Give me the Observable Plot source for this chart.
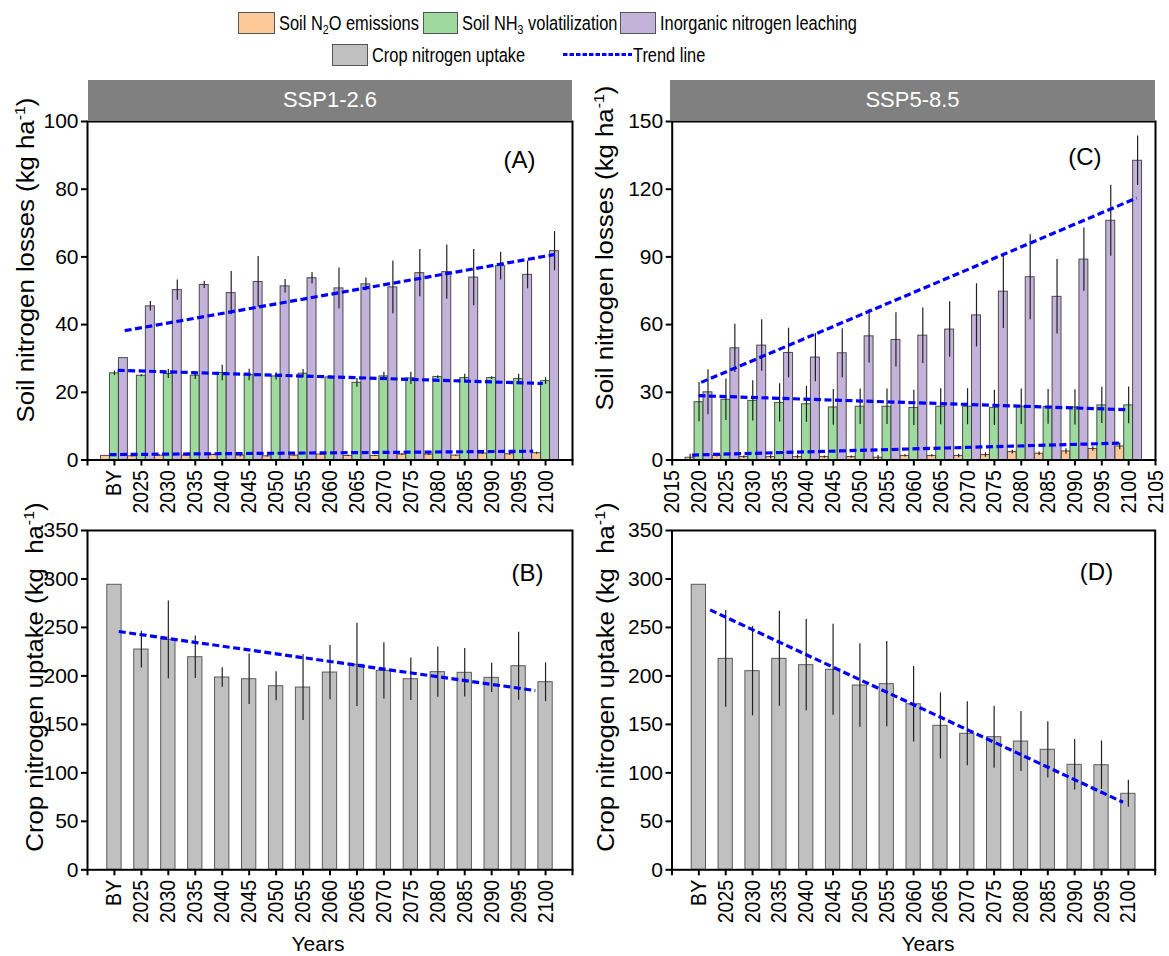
<!DOCTYPE html>
<html><head><meta charset="utf-8">
<script src="https://cdn.jsdelivr.net/npm/d3@7"></script>
<script src="https://cdn.jsdelivr.net/npm/@observablehq/plot@0.6"></script>
<style>
body{margin:0;background:#fff;}
#root{position:relative;width:1169px;height:956px;overflow:hidden;font-family:"Liberation Sans",Arial,sans-serif;color:#000;}
.sw{position:absolute;border:1px solid #555;box-sizing:border-box;}
.lt{position:absolute;font-size:20.5px;line-height:22px;white-space:nowrap;transform:scaleX(0.80);transform-origin:0 50%;}
.lt sub{font-size:0.65em;vertical-align:-0.3em;line-height:0;}
.hdr{position:absolute;background:#808080;color:#fff;font-size:22px;display:flex;align-items:center;justify-content:center;}
.yt{position:absolute;width:420px;height:30px;line-height:30px;text-align:center;font-size:23px;white-space:nowrap;transform:rotate(-90deg) scaleX(1.12);}
.yt sup{font-size:0.62em;vertical-align:0.6em;line-height:0;}
.xt{position:absolute;width:120px;height:26px;line-height:26px;text-align:center;font-size:21px;}
svg.panel{position:absolute;}
</style>
</head><body>
<div id="root"></div>
<script>
// ---------------- DATA ----------------
const years = [2020, 2025, 2030, 2035, 2040, 2045, 2050, 2055, 2060, 2065, 2070, 2075, 2080, 2085, 2090, 2095, 2100];
const tickYears = [2015, 2020, 2025, 2030, 2035, 2040, 2045, 2050, 2055, 2060, 2065, 2070, 2075, 2080, 2085, 2090, 2095, 2100, 2105];
const tickLabelsBY = ["", "BY", "2025", "2030", "2035", "2040", "2045", "2050", "2055", "2060", "2065", "2070", "2075", "2080", "2085", "2090", "2095", "2100", ""];
const tickLabelsYear = ["2015", "2020", "2025", "2030", "2035", "2040", "2045", "2050", "2055", "2060", "2065", "2070", "2075", "2080", "2085", "2090", "2095", "2100", "2105"];

// SSP1-2.6 soil nitrogen losses (kg ha-1)
const ssp126_n2o      = [1.2, 1.1, 1.3, 1.3, 1.5, 1.3, 1.1, 1.3, 1.6, 1.2, 1.2, 1.6, 1.6, 1.3, 1.9, 1.7, 2.0];
const ssp126_n2oErr   = [0, 0.2, 0.2, 0.2, 0.2, 0.4, 0.2, 0.2, 0.3, 0.2, 0.2, 0.3, 0.3, 0.2, 0.3, 0.3, 0.3];
const ssp126_nh3      = [25.6, 24.9, 25.4, 24.9, 25.7, 25.1, 24.7, 25.5, 24.4, 22.8, 24.7, 24.1, 24.5, 24.2, 24.2, 23.9, 23.3];
const ssp126_nh3Err   = [0.7, 0.3, 1.3, 1.1, 2.3, 1.7, 1.1, 1.2, 0.5, 1.3, 1.2, 1.8, 0.4, 1.1, 0.4, 1.4, 1.0];
const ssp126_leach    = [30.1, 45.4, 50.2, 51.7, 49.3, 52.6, 51.3, 53.7, 50.7, 51.9, 51.0, 55.2, 55.5, 53.9, 57.3, 54.7, 61.7];
const ssp126_leachErr = [0, 1.4, 3.0, 1.0, 6.4, 7.5, 2.0, 1.7, 6.0, 1.9, 7.8, 7.0, 8.0, 8.3, 4.1, 4.1, 5.8];

// SSP5-8.5 soil nitrogen losses (kg ha-1)
const ssp585_n2o      = [1.0, 1.8, 1.3, 1.3, 1.3, 1.3, 1.3, 1.0, 1.8, 1.8, 1.8, 2.2, 3.5, 2.8, 3.8, 4.9, 6.0];
const ssp585_n2oErr   = [1.5, 0.5, 0.5, 0.8, 0.8, 0.5, 0.5, 1.0, 0.5, 0.5, 0.8, 1.0, 0.8, 0.8, 1.2, 1.0, 1.5];
const ssp585_nh3      = [25.6, 26.7, 26.2, 25.3, 24.7, 23.3, 23.6, 23.6, 23.1, 23.6, 23.6, 23.1, 23.6, 23.5, 23.3, 24.2, 24.2];
const ssp585_nh3Err   = [8.7, 9.2, 8.9, 8.5, 8.0, 7.9, 7.9, 7.9, 7.8, 8.0, 8.0, 7.8, 7.9, 7.7, 7.8, 8.0, 8.1];
const ssp585_leach    = [30.0, 49.5, 50.7, 47.4, 45.4, 47.3, 54.8, 53.2, 55.1, 57.8, 64.1, 74.6, 81.0, 72.3, 88.8, 106.0, 132.6];
const ssp585_leachErr = [10, 10.7, 11.4, 11, 10.7, 10.9, 11.8, 12, 12.3, 12.3, 14, 16.3, 18.8, 16.5, 14, 15.7, 11];

// Crop nitrogen uptake (kg ha-1)
const ssp126_uptake    = [294, 227.2, 237.2, 219.3, 198.4, 196.6, 189.4, 188.0, 203.5, 211.4, 205.2, 196.6, 203.9, 203.2, 198.0, 210.0, 193.5];
const ssp126_uptakeErr = [0, 19, 40, 22, 10, 26, 15, 34, 28, 43, 29, 22, 26, 25, 15, 35, 20];
const ssp585_uptake    = [294, 217.6, 204.9, 217.6, 211.1, 206.3, 190.1, 191.5, 170.8, 148.5, 140.3, 136.8, 132.3, 123.8, 108.3, 107.9, 78.4];
const ssp585_uptakeErr = [0, 50, 46, 49, 47, 47, 43, 44, 39, 34, 33, 32, 31, 29, 26, 25, 14];

// Trend lines: [start, end] years and values (N2O, NH3, leaching / uptake)
const trendA_years  = [[2019.1, 2097.7], [2020.6, 2099.5], [2021.9, 2101.7]];
const trendA_values = [[1.6, 2.6], [26.5, 22.6], [38.2, 60.7]];
const trendC_years  = [[2018.7, 2098.7], [2019.9, 2099.8], [2020.4, 2101.5]];
const trendC_values = [[2.2, 7.5], [28.5, 22.3], [34.4, 116.1]];
const trendB_years  = [[2020.8, 2098.1]];
const trendB_values = [[245.8, 184.9]];
const trendD_years  = [[2022.1, 2099.0]];
const trendD_values = [[268.1, 69.7]];

const lossTicksA = [0, 20, 40, 60, 80, 100];
const lossTicksC = [0, 30, 60, 90, 120, 150];
const uptakeTicks = [0, 50, 100, 150, 200, 250, 300, 350];

const colN2O = "#fdc998", colNH3 = "#9ed99e", colLeach = "#c3b2d9", colUptake = "#c0c0c0", colTrend = "#0000ff";

// ---------------- HELPERS ----------------
const FONT = '"Liberation Sans", Arial, sans-serif';
const root = document.getElementById("root");

function trendRows(yrs, vals) {
  const rows = [];
  yrs.forEach((pair, i) => {
    rows.push({s: i, x: pair[0], y: vals[i][0]});
    rows.push({s: i, x: pair[1], y: vals[i][1]});
  });
  return rows;
}

function barRows(values, errs, offset, half) {
  return years.map((yr, i) => ({xc: yr + offset, x1: yr + offset - half, x2: yr + offset + half, v: values[i], e: errs[i]}));
}

function makePanel(cfg) {
  const marks = [];
  cfg.series.forEach(s => {
    const rows = barRows(s.values, s.errs, s.offset, s.half);
    marks.push(Plot.rect(rows, {x1: "x1", x2: "x2", y1: () => 0, y2: "v", fill: s.color, stroke: s.stroke, strokeWidth: 1, strokeOpacity: 0.85}));
  });
  cfg.series.forEach(s => {
    const rows = barRows(s.values, s.errs, s.offset, s.half);
    marks.push(Plot.ruleX(rows.filter(d => d.e > 0), {x: "xc", y1: d => d.v - d.e, y2: d => d.v + d.e, stroke: "#222", strokeWidth: 1.2}));
  });
  marks.push(Plot.line(trendRows(cfg.trendYears, cfg.trendValues), {x: "x", y: "y", z: "s", stroke: colTrend, strokeWidth: 3.2, strokeDasharray: "7,3.5", strokeLinecap: "butt"}));
  marks.push(Plot.axisX({ticks: tickYears, tickFormat: d => cfg.tickLabels[tickYears.indexOf(d)], tickRotate: -90, tickSize: 6, tickPadding: 4, fontSize: 22, strokeWidth: 2, label: null}));
  marks.push(Plot.axisY({ticks: cfg.yTicks, tickSize: 6, tickPadding: 3, fontSize: 21, strokeWidth: 2, label: null}));
  marks.push(Plot.frame({stroke: "black", strokeWidth: 2}));
  marks.push(Plot.text([cfg.label], {frameAnchor: "top-right", textAnchor: "end", dx: cfg.ldx, dy: cfg.ldy, fontSize: 24, fill: "black"}));
  const svg = Plot.plot({
    width: cfg.width, height: cfg.height,
    marginLeft: cfg.ml, marginRight: cfg.mr, marginTop: cfg.mt, marginBottom: cfg.mb,
    x: {type: "linear", domain: [2015, 2105]},
    y: {domain: cfg.yDomain},
    style: {fontFamily: FONT, fontSize: "21px", color: "black", background: "transparent", overflow: "visible"},
    marks
  });
  // slightly condense rotated x tick labels along their length, as in the reference
  d3.select(svg).selectAll('g[aria-label="x-axis tick label"] text').each(function() {
    const t = this.getAttribute("transform");
    if (t && t.includes("translate")) this.setAttribute("transform", t + " scale(0.89,1)");
  });
  svg.classList.add("panel");
  svg.style.left = cfg.left + "px";
  svg.style.top = cfg.top + "px";
  root.appendChild(svg);
}

const third = 5 / 3;
function lossSeries(n2o, n2oE, nh3, nh3E, lea, leaE) {
  return [
    {values: n2o, errs: n2oE, offset: -third, half: third / 2, color: colN2O, stroke: "#333"},
    {values: nh3, errs: nh3E, offset: 0, half: third / 2, color: colNH3, stroke: "#333"},
    {values: lea, errs: leaE, offset: third, half: third / 2, color: colLeach, stroke: "#333"}
  ];
}

// Panel A
makePanel({left: 0, top: 118, width: 580, height: 400, ml: 87, mr: 8, mt: 3, mb: 58.5,
  yDomain: [0, 100], yTicks: lossTicksA, tickLabels: tickLabelsBY,
  series: lossSeries(ssp126_n2o, ssp126_n2oErr, ssp126_nh3, ssp126_nh3Err, ssp126_leach, ssp126_leachErr),
  trendYears: trendA_years, trendValues: trendA_values, label: "(A)", ldx: -37, ldy: 29});
// Panel C
makePanel({left: 584, top: 118, width: 585, height: 400, ml: 87.7, mr: 14, mt: 3, mb: 58.5,
  yDomain: [0, 150], yTicks: lossTicksC, tickLabels: tickLabelsYear,
  series: lossSeries(ssp585_n2o, ssp585_n2oErr, ssp585_nh3, ssp585_nh3Err, ssp585_leach, ssp585_leachErr),
  trendYears: trendC_years, trendValues: trendC_values, label: "(C)", ldx: -54, ldy: 26});
// Panel B
makePanel({left: 0, top: 520, width: 580, height: 436, ml: 87, mr: 8, mt: 10, mb: 86.7,
  yDomain: [0, 350], yTicks: uptakeTicks, tickLabels: tickLabelsBY,
  series: [{values: ssp126_uptake, errs: ssp126_uptakeErr, offset: 0, half: 1.33, color: colUptake, stroke: "#444"}],
  trendYears: trendB_years, trendValues: trendB_values, label: "(B)", ldx: -29, ldy: 33});
// Panel D
makePanel({left: 584, top: 520, width: 585, height: 436, ml: 87.5, mr: 14.3, mt: 10, mb: 86.7,
  yDomain: [0, 350], yTicks: uptakeTicks, tickLabels: tickLabelsBY,
  series: [{values: ssp585_uptake, errs: ssp585_uptakeErr, offset: 0, half: 1.33, color: colUptake, stroke: "#444"}],
  trendYears: trendD_years, trendValues: trendD_values, label: "(D)", ldx: -42, ldy: 32});

// ---------------- TEXT / LEGEND (HTML) ----------------
function add(html) { root.insertAdjacentHTML("beforeend", html); }
// headers
add('<div class="hdr" style="left:88px;top:80px;width:484px;height:40px;">SSP1-2.6</div>');
add('<div class="hdr" style="left:670px;top:80px;width:485px;height:40px;">SSP5-8.5</div>');
// y titles (centre positions)
function ytitle(cx, cy, html) { add(`<div class="yt" style="left:${cx - 210}px;top:${cy - 15}px;">${html}</div>`); }
ytitle(26, 260, 'Soil nitrogen losses (kg ha<sup>-1</sup>)');
ytitle(605, 248, 'Soil nitrogen losses (kg ha<sup>-1</sup>)');
ytitle(35, 677, 'Crop nitrogen uptake (kg&nbsp;&nbsp;ha<sup>-1</sup>)');
ytitle(606, 677, 'Crop nitrogen uptake (kg&nbsp;&nbsp;ha<sup>-1</sup>)');
// x titles
add('<div class="xt" style="left:258px;top:931px;">Years</div>');
add('<div class="xt" style="left:868px;top:931px;">Years</div>');
// legend
add(`<div class="sw" style="left:238px;top:12px;width:37px;height:22px;background:${colN2O};"></div>`);
add('<div class="lt" style="left:279px;top:11.5px;">Soil N<sub>2</sub>O emissions</div>');
add(`<div class="sw" style="left:423px;top:12px;width:35px;height:22px;background:${colNH3};"></div>`);
add('<div class="lt" style="left:462px;top:11.5px;">Soil NH<sub>3</sub> volatilization</div>');
add(`<div class="sw" style="left:620px;top:12px;width:36px;height:22px;background:${colLeach};"></div>`);
add('<div class="lt" style="left:660px;top:11.5px;">Inorganic nitrogen leaching</div>');
add(`<div class="sw" style="left:332px;top:43.5px;width:36px;height:22px;background:${colUptake};"></div>`);
add('<div class="lt" style="left:372px;top:43.5px;">Crop nitrogen uptake</div>');
add(`<svg style="position:absolute;left:560px;top:48px;" width="76" height="14"><line x1="3" x2="72" y1="6.5" y2="6.5" stroke="${colTrend}" stroke-width="3" stroke-dasharray="4.5,2"/></svg>`);
add('<div class="lt" style="left:633px;top:43.5px;">Trend line</div>');
</script>
</body></html>
